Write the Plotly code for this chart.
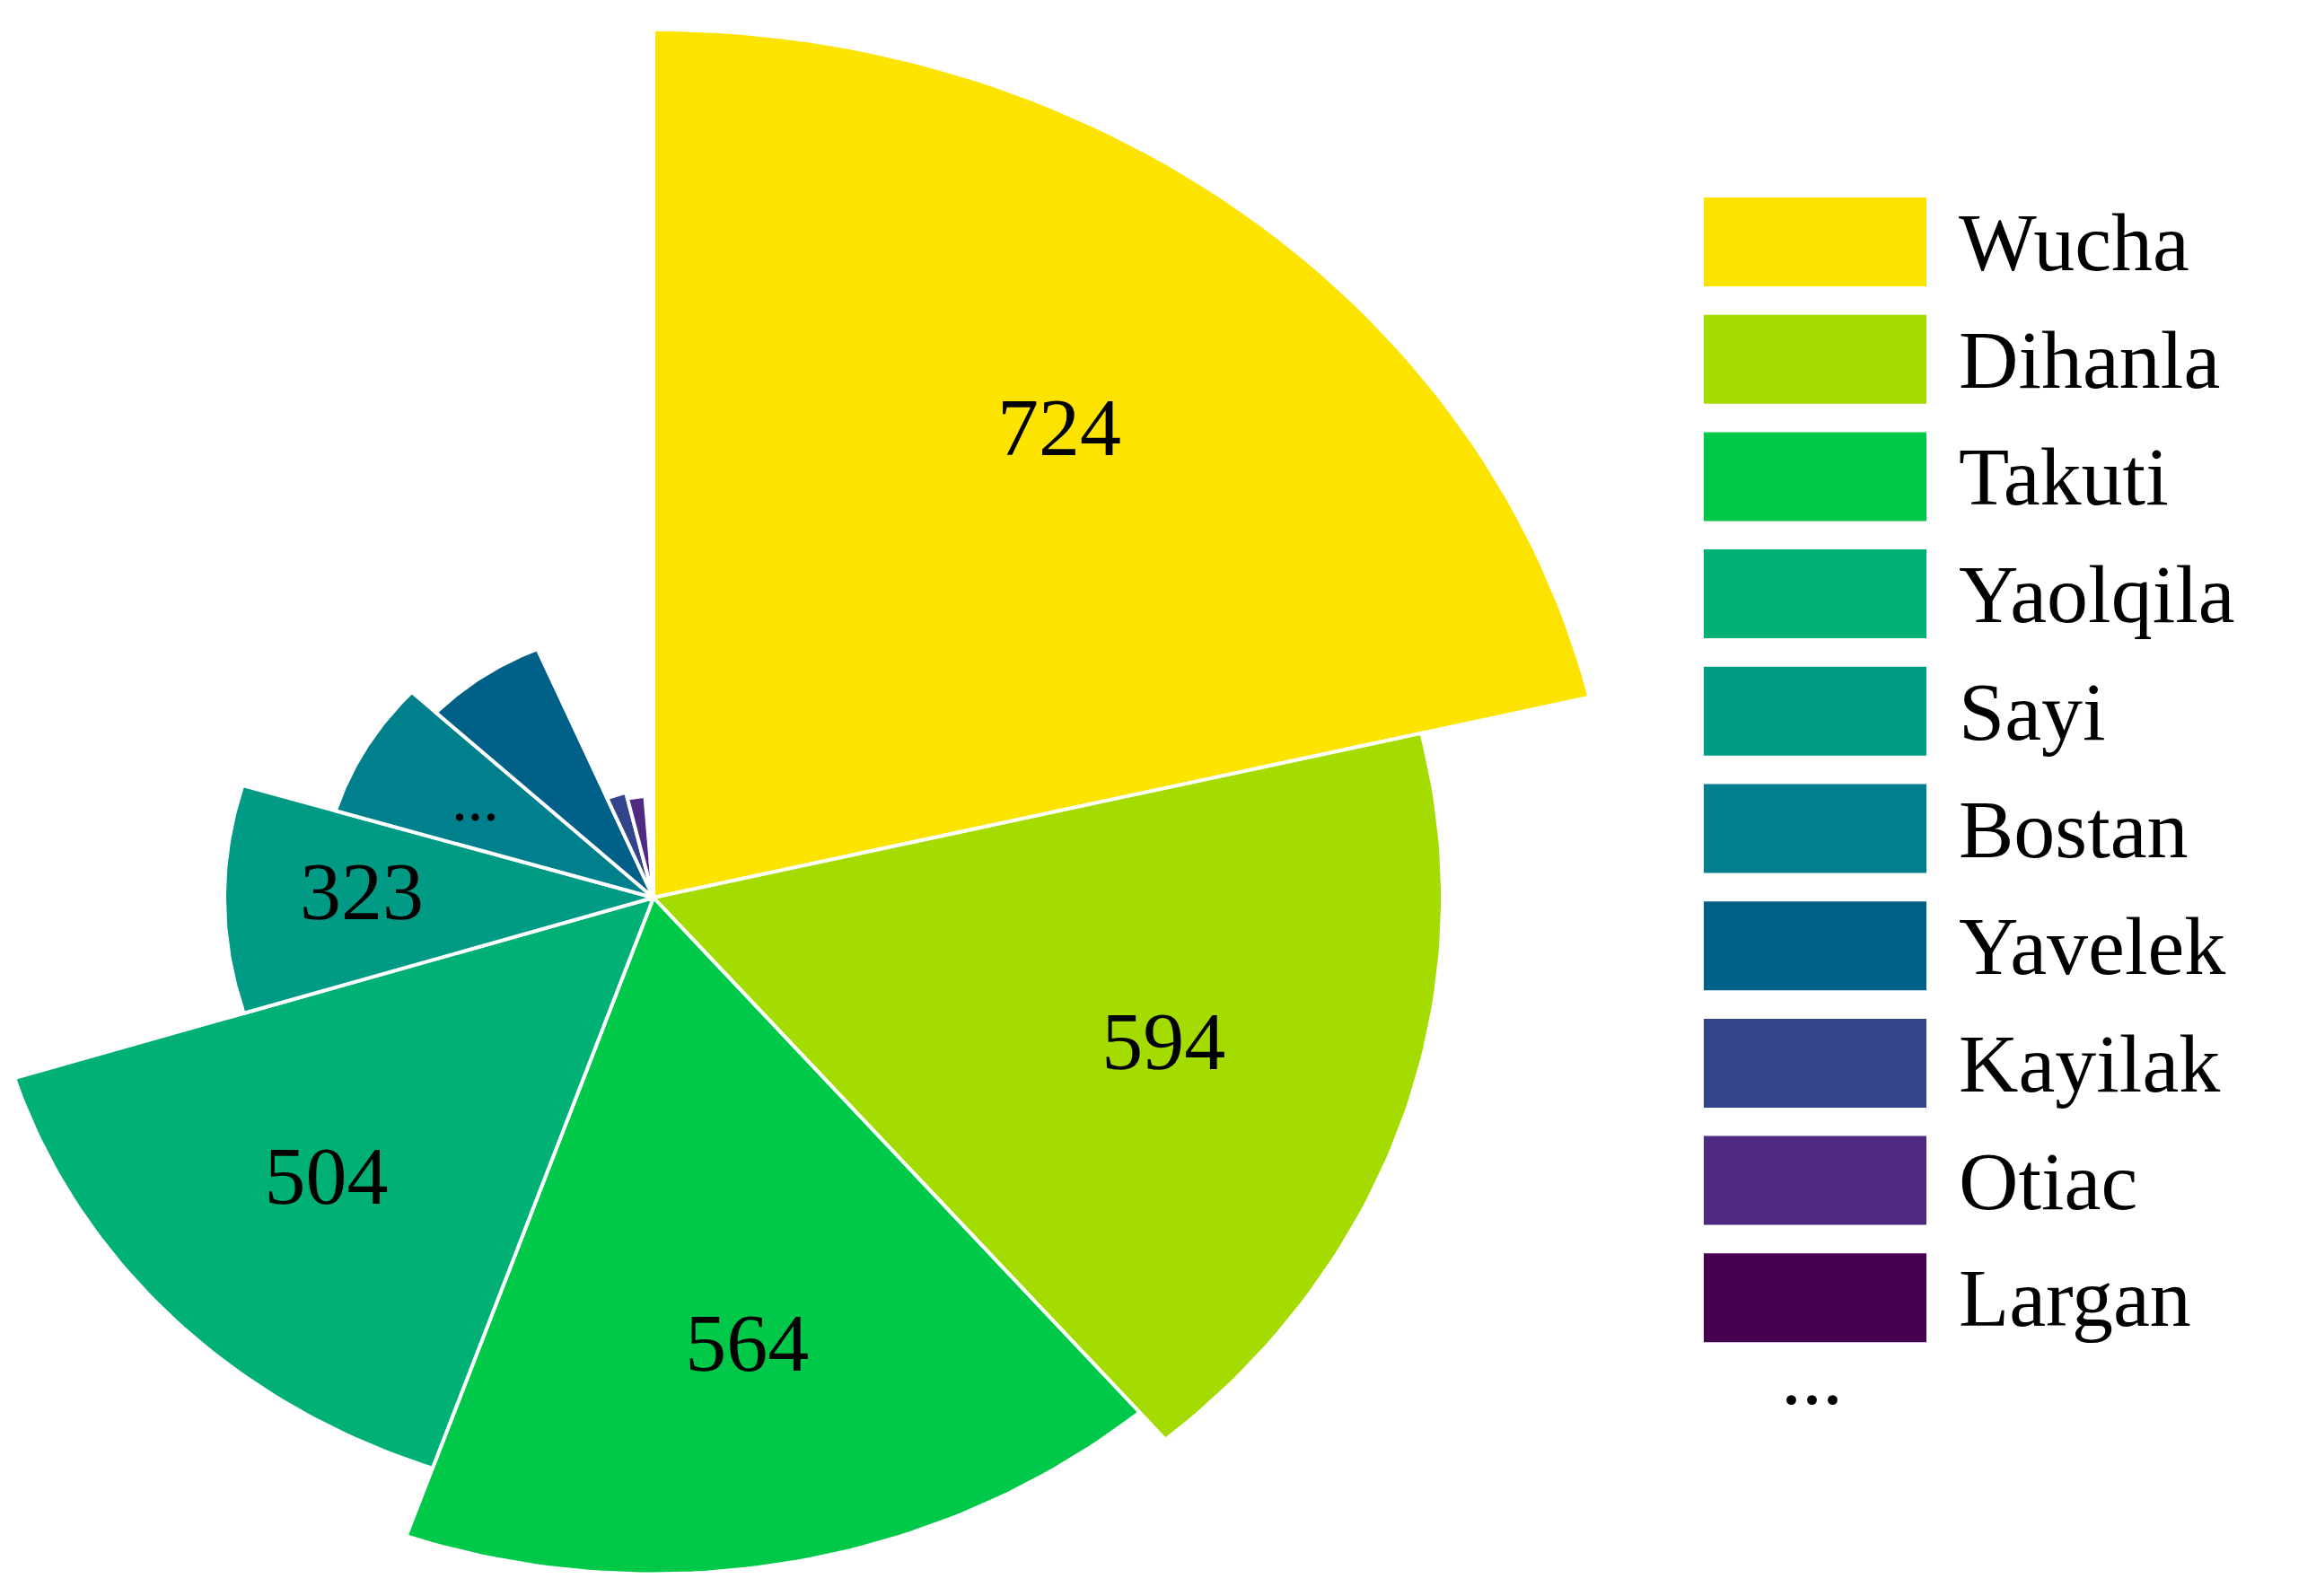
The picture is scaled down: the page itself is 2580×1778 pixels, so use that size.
import numpy as np
import plotly.graph_objects as go

names = ["Wucha", "Dihanla", "Takuti", "Yaolqila", "Sayi", "Bostan", "Yavelek", "Kayilak", "Otiac", "Largan"]
values = [724, 594, 564, 504, 323, 250, 225, 90, 85, 30]
labels = ["724", "594", "564", "504", "323", "...", "", "", "", ""]
colors = ["#FDE400", "#A4DB00", "#00C94A", "#00B074", "#009A85", "#00808C", "#006088", "#33458A", "#4E2A82", "#47004F"]
total = 3400.0

W, H = 2580, 1778
cx, cy = 720, 992
sx, sy = 1.480, 1.336
xr = [-cx / sx, (W - cx) / sx]
yr = [-(H - cy) / sy, cy / sy]

fig = go.Figure()
start = 90.0
font = "Liberation Serif"
for n, v, lab, c in zip(names, values, labels, colors):
    span = v / total * 360.0
    a = np.radians(np.linspace(start, start - span, 60))
    xs = np.concatenate([[0], v * np.cos(a), [0]])
    ys = np.concatenate([[0], v * np.sin(a), [0]])
    fig.add_trace(go.Scatter(x=xs, y=ys, fill="toself", fillcolor=c, mode="lines",
                             line=dict(color="white", width=4), hoverinfo="skip", showlegend=False))
    if lab:
        m = np.radians(start - span / 2)
        rr = v * (0.68 if lab != "..." else 0.62)
        fig.add_trace(go.Scatter(x=[rr * np.cos(m)], y=[rr * np.sin(m)], mode="text", text=[lab],
                                 textfont=dict(family=font, size=92 if lab != "..." else 70, color="black"),
                                 hoverinfo="skip", showlegend=False))
    start -= span

# legend
shapes = []
annotations = []
for i, (n, c) in enumerate(zip(names, colors)):
    y0 = 212 + i * 130.7
    shapes.append(dict(type="rect", xref="paper", yref="paper", x0=1890 / W, x1=2138 / W,
                       y0=1 - (y0 + 99) / H, y1=1 - y0 / H, fillcolor=c, line=dict(width=0)))
    annotations.append(dict(xref="paper", yref="paper", x=2172 / W, y=1 - (y0 + 50) / H, text=n,
                            showarrow=False, xanchor="left", yanchor="middle",
                            font=dict(family=font, size=92, color="black")))
annotations.append(dict(xref="paper", yref="paper", x=2010 / W, y=1 - 1525 / H, text="...",
                        showarrow=False, xanchor="center", yanchor="middle",
                        font=dict(family=font, size=92, color="black")))

fig.update_layout(width=W, height=H, margin=dict(l=0, r=0, t=0, b=0),
                  paper_bgcolor="white", plot_bgcolor="white",
                  xaxis=dict(range=xr, visible=False, fixedrange=True),
                  yaxis=dict(range=yr, visible=False, fixedrange=True),
                  shapes=shapes, annotations=annotations, showlegend=False)
fig.write_html("out.html")
